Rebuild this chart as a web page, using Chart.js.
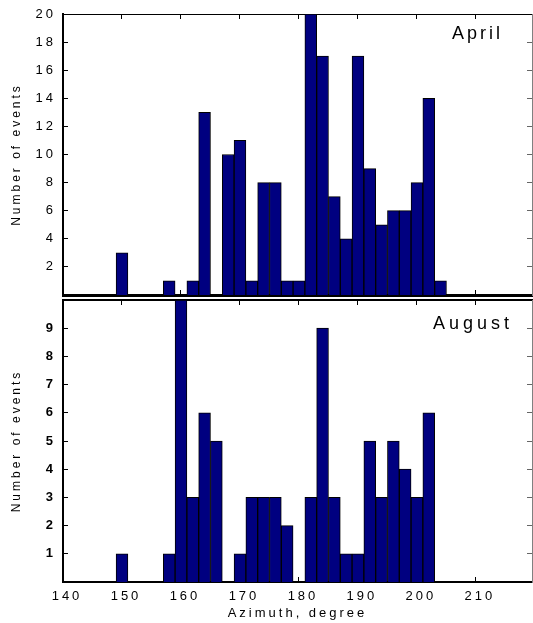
<!DOCTYPE html>
<html>
<head>
<meta charset="utf-8">
<script src="https://cdn.jsdelivr.net/npm/chart.js@4"></script>
<style>
  html, body { margin: 0; padding: 0; background: #fff; }
  #wrap { position: relative; width: 533px; height: 623px; }
  canvas { position: absolute; left: 0; }
  #april { top: 0; }
  #august { top: 298px; }
</style>
</head>
<body>
<div id="wrap">
  <canvas id="april" width="533" height="298"></canvas>
  <canvas id="august" width="533" height="325"></canvas>
</div>
<script>
// Azimuth bins (2-degree wide, centre values)
const binCenters = [150, 152, 154, 156, 158, 160, 162, 164, 166, 168, 170, 172, 174, 176,
                    178, 180, 182, 184, 186, 188, 190, 192, 194, 196, 198, 200, 202, 204];

// Number of events per bin
const aprilCounts  = [3, 0, 0, 0, 1, 0, 1, 13, 0, 10, 11, 1, 8, 8,
                      1, 1, 20, 17, 7, 4, 17, 9, 5, 6, 6, 8, 14, 1];
const augustCounts = [1, 0, 0, 0, 1, 10, 3, 6, 5, 0, 1, 3, 3, 3,
                      2, 0, 3, 9, 3, 1, 1, 5, 3, 5, 4, 3, 6, 0];

// Axis ticks
const azimuthTicks = [140, 150, 160, 170, 180, 190, 200, 210];
const aprilTicks   = [2, 4, 6, 8, 10, 12, 14, 16, 18, 20];
const augustTicks  = [1, 2, 3, 4, 5, 6, 7, 8, 9];

const FONT = '"Liberation Sans", Arial, sans-serif';
Chart.defaults.font.family = FONT;
Chart.defaults.color = '#000';

// Wide letter spacing for all axis text
const spacingPlugin = {
  id: 'spacing',
  beforeDraw(chart) { chart.ctx.letterSpacing = '3px'; }
};

// Month name in the upper right corner of each panel
const panelLabelPlugin = {
  id: 'panelLabel',
  afterDraw(chart, args, opts) {
    const { ctx, chartArea } = chart;
    ctx.save();
    ctx.font = '18px ' + FONT;
    ctx.letterSpacing = opts.spacing;
    ctx.fillStyle = '#000';
    ctx.textAlign = 'left';
    ctx.textBaseline = 'alphabetic';
    ctx.fillText(opts.text, chartArea.right + opts.dx, chartArea.top + opts.dy);
    ctx.restore();
  }
};

const tickList = arr => arr.map(v => ({ value: v }));

// keep the plot frame fixed: no extra room reserved for label overhang
function fixHeight(h) {
  return s => { s.height = h; s.paddingLeft = 0; s.paddingRight = 0; };
}
function fixWidth(w) {
  return s => { s.width = w; s.paddingTop = 0; s.paddingBottom = 0; };
}

function makePanel(id, counts, yMax, yTicks, label, cfg) {
  return new Chart(document.getElementById(id), {
    type: 'bar',
    data: {
      datasets: [{
        data: binCenters.map((x, i) => ({ x: x, y: counts[i] })),
        backgroundColor: '#000080',
        borderColor: '#000',
        borderWidth: 1,
        borderSkipped: 'start',
        barPercentage: 1,
        categoryPercentage: 1
      }]
    },
    options: {
      responsive: false,
      animation: false,
      events: [],
      layout: { padding: cfg.padding },
      plugins: {
        legend: { display: false },
        tooltip: { enabled: false },
        panelLabel: { text: label, dx: cfg.labelDx, dy: cfg.labelDy, spacing: cfg.labelSpacing }
      },
      scales: {
        x: {
          type: 'linear', position: 'bottom', min: 140, max: 219.5, offset: false,
          afterBuildTicks: s => { s.ticks = tickList(azimuthTicks); },
          afterFit: fixHeight(cfg.xHeight),
          ticks: { display: cfg.xLabels, padding: 12, labelOffset: 4, font: { size: 13 }, color: '#000',
                   maxRotation: 0, autoSkip: false },
          grid: { drawOnChartArea: false, drawTicks: true, tickLength: -5, tickColor: '#000', offset: false },
          border: { display: true, color: '#000', width: cfg.xBorder },
          title: { display: cfg.xLabels, text: 'Azimuth, degree', font: { size: 13 }, color: '#000',
                   padding: { top: 0, bottom: 2 } }
        },
        x2: {
          type: 'linear', position: 'top', min: 140, max: 219.5, offset: false,
          afterBuildTicks: s => { s.ticks = tickList(azimuthTicks); },
          afterFit: fixHeight(0),
          ticks: { display: false },
          grid: { drawOnChartArea: false, drawTicks: true, tickLength: -5, tickColor: '#000', offset: false },
          border: { display: true, color: '#000', width: cfg.topBorder }
        },
        y: {
          type: 'linear', position: 'left', min: 0, max: yMax,
          afterBuildTicks: s => { s.ticks = tickList(yTicks); },
          afterFit: fixWidth(63),
          ticks: { padding: 12, font: { size: 13, weight: cfg.yWeight }, color: '#000' },
          grid: { drawOnChartArea: false, drawTicks: true, tickLength: -5, tickColor: '#000' },
          border: { display: true, color: '#000', width: 2 },
          title: { display: true, text: 'Number of events', font: { size: 12 }, color: '#000',
                   padding: { top: 9, bottom: 0 } }
        },
        y2: {
          type: 'linear', position: 'right', min: 0, max: yMax,
          afterBuildTicks: s => { s.ticks = tickList(yTicks); },
          afterFit: fixWidth(0),
          ticks: { display: false },
          grid: { drawOnChartArea: false, drawTicks: true, tickLength: -5, tickColor: '#666' },
          border: { display: true, color: '#808080', width: 1 }
        }
      }
    },
    plugins: [spacingPlugin, panelLabelPlugin]
  });
}

makePanel('april', aprilCounts, 20, aprilTicks, 'April', {
  padding: { top: 14, right: 1, bottom: 3, left: 0 },
  xHeight: 0, xLabels: false, xBorder: 3, topBorder: 1, yWeight: 'normal',
  labelDx: -80, labelDy: 25, labelSpacing: '3px'
});

makePanel('august', augustCounts, 10, augustTicks, 'August', {
  padding: { top: 2, right: 1, bottom: 0, left: 0 },
  xHeight: 41, xLabels: true, xBorder: 2, topBorder: 2, yWeight: 'bold',
  labelDx: -99, labelDy: 29, labelSpacing: '4px'
});
</script>
</body>
</html>
